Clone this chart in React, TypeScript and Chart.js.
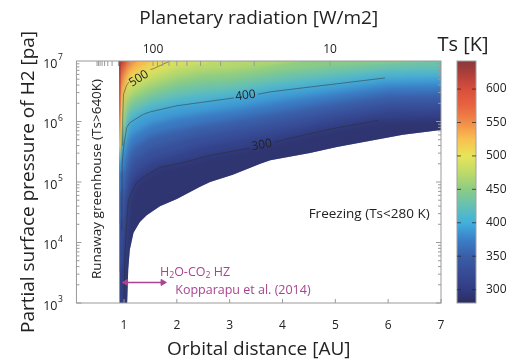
import React, { useEffect, useRef } from 'react';
import { Chart, registerables } from 'chart.js';

Chart.register(...registerables);

const FONT = "'Open Sans', 'DejaVu Sans', sans-serif";
const MAGENTA = '#a8448f';
const INK = '#222222';

// ---- axes ----
const DIST_TICKS = [1, 2, 3, 4, 5, 6, 7];
const FLUX_TICKS = [1000, 900, 800, 700, 600, 500, 400, 300, 200, 100, 90, 80, 70, 60, 50, 40, 30, 20, 10];
const FLUX_LABELS = [100, 10];
const FLUX_1AU = 240; // W/m2 at 1 AU (top axis conversion)
const P_DECADES = [3, 4, 5, 6, 7];
const TS_TICKS = [300, 350, 400, 450, 500, 550, 600];
const TS_MIN = 280;
const TS_MAX = 642;

// ---- colour map (Ts -> rgb) ----
const CMAP_T = [280, 300, 325, 350, 375, 400, 425, 450, 475, 500, 525, 550, 575, 600, 625, 642];
const CMAP_RGB = [
  [44, 45, 96], [49, 60, 130], [55, 75, 150], [58, 94, 168], [58, 128, 200], [66, 176, 222],
  [100, 192, 180], [140, 204, 132], [190, 218, 105], [232, 228, 90], [248, 192, 80],
  [242, 140, 72], [232, 100, 64], [216, 78, 60], [170, 62, 58], [135, 58, 58],
];

// ---- isotherms: [orbital distance AU, log10 pressure Pa] ----
const ISO_280 = [[0.915, 1.0], [1.05, 2.0], [1.06, 3.0], [1.08, 3.55], [1.11, 3.88], [1.18, 4.16], [1.3, 4.34], [1.43, 4.45], [1.68, 4.6], [2.0, 4.72], [2.44, 4.92], [2.63, 5.0], [3.06, 5.12], [3.58, 5.3], [3.77, 5.36], [4.52, 5.48], [5.03, 5.58], [6.28, 5.78], [7.0, 5.86]];
const ISO_300 = [[0.915, 1.0], [0.99, 2.5], [1.0, 3.0], [1.02, 3.88], [1.06, 4.45], [1.08, 4.68], [1.15, 4.85], [1.24, 4.99], [1.36, 5.08], [1.68, 5.24], [2.12, 5.32], [2.63, 5.44], [3.2, 5.53], [3.77, 5.65], [4.52, 5.8], [5.0, 5.89], [5.82, 6.02], [7.0, 6.05]];
const ISO_320 = [[0.915, 3.5], [0.98, 3.7], [1.0, 4.0], [1.05, 4.7], [1.1, 5.0], [1.2, 5.15], [1.5, 5.35], [2.0, 5.48], [2.5, 5.61], [3.0, 5.69], [4.0, 5.86], [5.0, 6.04], [6.0, 6.18], [7.0, 6.19]];
const ISO_340 = [[0.915, 4.3], [0.98, 4.4], [1.0, 4.6], [1.05, 5.05], [1.1, 5.24], [1.2, 5.37], [1.5, 5.55], [2.0, 5.68], [2.5, 5.79], [3.0, 5.86], [4.0, 6.02], [5.0, 6.18], [6.0, 6.32], [7.0, 6.33]];
const ISO_360 = [[0.915, 4.8], [0.98, 4.9], [1.0, 5.15], [1.05, 5.35], [1.1, 5.48], [1.2, 5.59], [1.5, 5.76], [2.0, 5.87], [2.5, 5.96], [3.0, 6.03], [4.0, 6.18], [5.0, 6.33], [6.0, 6.46], [7.0, 6.47]];
const ISO_380 = [[0.915, 5.15], [0.98, 5.2], [1.0, 5.4], [1.05, 5.65], [1.1, 5.72], [1.2, 5.81], [1.5, 5.96], [2.0, 6.07], [2.5, 6.14], [3.0, 6.2], [4.0, 6.35], [5.0, 6.48], [6.0, 6.6], [7.0, 6.61]];
const ISO_400 = [[0.915, 5.35], [0.96, 5.4], [0.99, 5.55], [1.0, 5.62], [1.05, 5.9], [1.11, 5.98], [1.2, 6.03], [1.37, 6.12], [1.5, 6.16], [2.0, 6.26], [2.5, 6.32], [3.0, 6.38], [3.77, 6.49], [4.52, 6.57], [5.0, 6.62], [5.94, 6.72], [7.0, 6.74]];
const ISO_420 = [[0.915, 5.5], [0.99, 5.62], [1.0, 5.8], [1.05, 6.06], [1.1, 6.11], [1.2, 6.17], [1.5, 6.3], [2.0, 6.41], [2.5, 6.48], [3.0, 6.52], [4.0, 6.66], [5.0, 6.76], [6.0, 6.85], [7.0, 6.87]];
const ISO_440 = [[0.915, 5.6], [0.99, 5.75], [1.0, 5.97], [1.05, 6.2], [1.1, 6.25], [1.2, 6.31], [1.5, 6.44], [2.0, 6.57], [2.5, 6.64], [3.0, 6.67], [4.0, 6.81], [5.0, 6.9], [6.0, 6.96], [7.0, 7.0]];
const ISO_460 = [[0.915, 5.7], [0.985, 5.85], [1.0, 6.13], [1.05, 6.33], [1.1, 6.39], [1.2, 6.45], [1.5, 6.58], [2.0, 6.72], [2.5, 6.8], [3.0, 6.83], [4.0, 6.96], [5.0, 7.04], [6.0, 7.08], [7.0, 7.12]];
const ISO_480 = [[0.915, 5.8], [0.98, 5.95], [1.0, 6.3], [1.05, 6.47], [1.1, 6.52], [1.2, 6.59], [1.5, 6.72], [2.0, 6.88], [2.5, 6.96], [3.0, 6.99], [3.5, 7.05], [4.0, 7.11]];
const ISO_500 = [[0.915, 5.9], [0.975, 6.05], [0.99, 6.45], [1.05, 6.6], [1.11, 6.67], [1.2, 6.73], [1.43, 6.84], [1.55, 6.87], [1.87, 7.0], [2.2, 7.06]];
const ISO_520 = [[0.915, 6.02], [0.97, 6.28], [1.0, 6.6], [1.05, 6.72], [1.1, 6.78], [1.2, 6.84], [1.5, 6.98], [1.6, 7.02]];
const ISO_540 = [[0.915, 6.15], [0.96, 6.48], [1.0, 6.73], [1.05, 6.83], [1.1, 6.89], [1.2, 6.96], [1.3, 7.02]];
const ISO_560 = [[0.915, 6.28], [0.96, 6.58], [1.0, 6.84], [1.05, 6.93], [1.1, 7.0], [1.15, 7.04]];
const ISO_580 = [[0.915, 6.42], [0.96, 6.7], [1.0, 6.9], [1.05, 6.98], [1.1, 7.03]];
const ISO_600 = [[0.915, 6.6], [0.95, 6.8], [1.0, 6.95], [1.05, 7.02]];
const ISO_620 = [[0.915, 6.85], [0.95, 6.93], [0.99, 7.02]];
const ISO_640 = [[0.915, 6.97], [0.93, 7.03]];

const LEVELS = [280, 300, 320, 340, 360, 380, 400, 420, 440, 460, 480, 500, 520, 540, 560, 580, 600, 620, 640];
const ISOTHERMS = [ISO_280, ISO_300, ISO_320, ISO_340, ISO_360, ISO_380, ISO_400, ISO_420, ISO_440, ISO_460, ISO_480, ISO_500, ISO_520, ISO_540, ISO_560, ISO_580, ISO_600, ISO_620, ISO_640];

// hot edge of the runaway limit: [distance, log10 p] ends, with Ts along it
const RUNAWAY_EDGE = [[0.922, 5.2], [0.922, 7.0]];
const RUNAWAY_EDGE_T = [[5.2, 400], [5.6, 520], [6.2, 575], [6.7, 610], [7.0, 635]];

// ---- labelled contour lines (null = gap for the inline label) ----
const LINE_300 = [[0.995, 2.9], [1.0, 3.1], [1.02, 3.88], [1.06, 4.45], [1.08, 4.68], [1.15, 4.85], [1.24, 4.99], [1.36, 5.08], [1.68, 5.24], [2.12, 5.32], [2.63, 5.44], [3.2, 5.53], [3.38, 5.56], [3.6, null], [3.84, 5.66], [4.52, 5.8], [5.0, 5.89], [5.82, 6.02]];
const LINE_400 = [[0.958, 4.2], [0.965, 5.3], [0.99, 5.55], [1.0, 5.62], [1.05, 5.9], [1.11, 5.98], [1.2, 6.03], [1.37, 6.12], [1.5, 6.16], [2.0, 6.26], [2.5, 6.32], [3.0, 6.38], [3.08, 6.39], [3.3, null], [3.53, 6.45], [3.77, 6.49], [4.52, 6.57], [5.0, 6.62], [5.94, 6.72]];
const LINE_500 = [[0.972, 5.6], [0.976, 6.05], [0.99, 6.45], [1.05, 6.6], [1.09, 6.65], [1.3, null], [1.5, 6.86], [1.55, 6.87], [1.87, 7.0]];
const CONTOUR_LABELS = ['300', '400', '500'];
const CONTOUR_LABEL_AT = [[3.61, 5.61, -10], [3.3, 6.43, -7], [1.28, 6.71, -32]];

// ---- annotation: H2O-CO2 habitable zone (Kopparapu et al. 2014) ----
const HZ_ARROW = [[1.035, 3.34], [1.735, 3.34]];

function cmapRGB(t: number): number[] {
  const v = Math.max(CMAP_T[0], Math.min(CMAP_T[CMAP_T.length - 1], t));
  let i = 0;
  while (i < CMAP_T.length - 2 && v > CMAP_T[i + 1]) i++;
  const f = (v - CMAP_T[i]) / (CMAP_T[i + 1] - CMAP_T[i]);
  const a = CMAP_RGB[i], b = CMAP_RGB[i + 1];
  return a.map((av, k) => Math.round(av + (b[k] - av) * f));
}
function cmap(t: number, alpha = 1): string {
  const c = cmapRGB(t);
  return `rgba(${c[0]},${c[1]},${c[2]},${alpha})`;
}

const toXY = (pts: any[]) => pts.map(([d, lp]) => ({ x: d, y: lp === null ? null : Math.pow(10, lp) }));

function drawSubText(ctx: CanvasRenderingContext2D, parts: [string, boolean][], x: number, y: number, size: number) {
  let cx = x;
  for (const [s, sub] of parts) {
    ctx.font = `${sub ? size * 0.7 : size}px ${FONT}`;
    ctx.fillText(s, cx, sub ? y + size * 0.25 : y);
    cx += ctx.measureText(s).width;
  }
}

// softens the filled-contour steps inside the coloured region (the reference is nearly continuous)
const smoothPlugin = {
  id: 'smoothField',
  afterDatasetDraw(chart: any, args: any) {
    if (args.index !== LEVELS.length - 1) return;
    const ctx: CanvasRenderingContext2D = chart.ctx;
    const sx = chart.scales.x;
    const sy = chart.scales.y;
    const { left, right, top, bottom } = chart.chartArea;
    const src = chart.canvas as HTMLCanvasElement;
    const off = document.createElement('canvas');
    off.width = src.width;
    off.height = src.height;
    const octx = off.getContext('2d');
    if (!octx) return;
    octx.drawImage(src, 0, 0);
    ctx.save();
    ctx.beginPath();
    ctx.rect(left, top, right - left, bottom - top);
    ctx.clip();
    ctx.beginPath();
    const pts = ISO_280.map(([d, lp]) => [sx.getPixelForValue(d), sy.getPixelForValue(Math.pow(10, lp))]);
    ctx.moveTo(pts[0][0], top);
    pts.forEach(([px, py]) => ctx.lineTo(px, py));
    ctx.lineTo(pts[pts.length - 1][0], top);
    ctx.closePath();
    ctx.clip();
    ctx.filter = 'blur(3px)';
    ctx.setTransform(1, 0, 0, 1, 0, 0);
    ctx.drawImage(off, 0, 0);
    ctx.restore();
  },
};

const overlayPlugin = {
  id: 'overlay',
  afterDatasetsDraw(chart: any) {
    const ctx: CanvasRenderingContext2D = chart.ctx;
    const { left, right, top, bottom } = chart.chartArea;
    const sx = chart.scales.x;
    const sy = chart.scales.y;
    const sc = chart.scales.yc;
    ctx.save();

    // contour labels
    ctx.fillStyle = INK;
    ctx.font = `12px ${FONT}`;
    ctx.textAlign = 'center';
    ctx.textBaseline = 'middle';
    CONTOUR_LABELS.forEach((txt, i) => {
      const [d, lp, rot] = CONTOUR_LABEL_AT[i];
      ctx.save();
      ctx.translate(sx.getPixelForValue(d), sy.getPixelForValue(Math.pow(10, lp)));
      ctx.rotate((rot * Math.PI) / 180);
      ctx.fillText(txt, 0, 0);
      ctx.restore();
    });

    // region annotations
    ctx.save();
    ctx.translate(sx.getPixelForValue(0.5), sy.getPixelForValue(Math.pow(10, 5.05)));
    ctx.rotate(-Math.PI / 2);
    ctx.font = `13.5px ${FONT}`;
    ctx.fillText('Runaway greenhouse (Ts>640K)', 0, 0);
    ctx.restore();

    ctx.font = `13.5px ${FONT}`;
    ctx.fillText('Freezing (Ts<280 K)', sx.getPixelForValue(5.64), sy.getPixelForValue(Math.pow(10, 4.47)));

    ctx.fillStyle = MAGENTA;
    ctx.textAlign = 'left';
    drawSubText(ctx, [['H', false], ['2', true], ['O-CO', false], ['2', true], [' HZ', false]],
      sx.getPixelForValue(1.68), sy.getPixelForValue(Math.pow(10, 3.5)), 12.5);
    ctx.font = `12.5px ${FONT}`;
    ctx.fillText('Kopparapu et al. (2014)', sx.getPixelForValue(1.97), sy.getPixelForValue(Math.pow(10, 3.21)));

    // frame
    ctx.strokeStyle = '#9a9a9a';
    ctx.lineWidth = 1;
    ctx.strokeRect(left, top, right - left, bottom - top);

    // ticks (inward)
    ctx.beginPath();
    DIST_TICKS.forEach((v) => {
      const px = sx.getPixelForValue(v);
      ctx.moveTo(px, bottom);
      ctx.lineTo(px, bottom - 4);
    });
    FLUX_TICKS.forEach((f) => {
      const d = Math.sqrt(FLUX_1AU / f);
      const px = sx.getPixelForValue(d);
      if (px < left || px > right) return;
      ctx.moveTo(px, top);
      ctx.lineTo(px, top + 5);
    });
    for (let e = P_DECADES[0]; e < P_DECADES[P_DECADES.length - 1]; e++) {
      for (let m = 1; m <= 9; m++) {
        const py = sy.getPixelForValue(m * Math.pow(10, e));
        const len = m === 1 ? 5 : 3;
        ctx.moveTo(left, py);
        ctx.lineTo(left + len, py);
        ctx.moveTo(right, py);
        ctx.lineTo(right - len, py);
      }
    }
    ctx.stroke();

    // y tick labels 10^n
    ctx.fillStyle = INK;
    P_DECADES.forEach((e) => {
      const py = sy.getPixelForValue(Math.pow(10, e));
      ctx.font = `12.5px ${FONT}`;
      ctx.textAlign = 'right';
      ctx.textBaseline = 'middle';
      ctx.fillText('10', left - 19, py + 3);
      ctx.font = `8.5px ${FONT}`;
      ctx.textAlign = 'left';
      ctx.fillText(String(e), left - 18.5, py - 3);
    });

    // colour bar
    const bx = sc.left + 16;
    const bw = 19;
    const y0 = sc.getPixelForValue(TS_MIN);
    const y1 = sc.getPixelForValue(TS_MAX);
    const grad = ctx.createLinearGradient(0, y0, 0, y1);
    CMAP_T.forEach((t) => grad.addColorStop((t - TS_MIN) / (TS_MAX - TS_MIN), cmap(t)));
    ctx.fillStyle = grad;
    ctx.fillRect(bx, y1, bw, y0 - y1);
    ctx.strokeStyle = '#a0a0a0';
    ctx.strokeRect(bx, y1, bw, y0 - y1);
    ctx.strokeStyle = 'rgba(40,40,40,0.75)';
    ctx.beginPath();
    TS_TICKS.forEach((t) => {
      const py = sc.getPixelForValue(t);
      ctx.moveTo(bx, py);
      ctx.lineTo(bx + 4, py);
      ctx.moveTo(bx + bw, py);
      ctx.lineTo(bx + bw - 4, py);
    });
    ctx.stroke();
    ctx.fillStyle = INK;
    ctx.font = `20px ${FONT}`;
    ctx.textAlign = 'center';
    ctx.textBaseline = 'middle';
    ctx.fillText('Ts [K]', bx + 6, 45);

    ctx.restore();
  },
};

export default function App() {
  const ref = useRef<HTMLCanvasElement | null>(null);

  useEffect(() => {
    if (!ref.current) return;
    const fills = ISOTHERMS.map((iso, k) => {
      const t0 = LEVELS[k];
      const t1 = k + 1 < LEVELS.length ? LEVELS[k + 1] : TS_MAX;
      return {
        label: `Ts ${t0} K`,
        data: toXY(iso),
        xAxisID: 'x',
        yAxisID: 'y',
        fill: 'end',
        backgroundColor: cmap((t0 + t1) / 2),
        borderColor: 'rgba(0,0,0,0)',
        borderWidth: 0,
        pointRadius: 0,
        order: 100 - k,
      };
    });
    const edge = {
      label: 'runaway edge',
      data: toXY(RUNAWAY_EDGE),
      xAxisID: 'x',
      yAxisID: 'y',
      fill: false,
      borderWidth: 1.6,
      pointRadius: 0,
      order: 2,
      borderColor: (c: any) => {
        const ch = c.chart;
        const sy = ch.scales.y;
        if (!ch.chartArea || !sy) return cmap(600);
        const yb = sy.getPixelForValue(Math.pow(10, RUNAWAY_EDGE_T[0][0]));
        const yt = sy.getPixelForValue(Math.pow(10, RUNAWAY_EDGE_T[RUNAWAY_EDGE_T.length - 1][0]));
        const g = ch.ctx.createLinearGradient(0, yb, 0, yt);
        RUNAWAY_EDGE_T.forEach(([lp, t], i) => {
          const pos = (sy.getPixelForValue(Math.pow(10, lp)) - yb) / (yt - yb);
          g.addColorStop(Math.max(0, Math.min(1, pos)), cmap(t, i === 0 ? 0 : 1));
        });
        return g;
      },
    };
    const lines = [LINE_300, LINE_400, LINE_500].map((ln, k) => ({
      label: `contour ${CONTOUR_LABELS[k]}`,
      data: toXY(ln),
      xAxisID: 'x',
      yAxisID: 'y',
      fill: false,
      borderColor: 'rgba(45,45,45,0.6)',
      borderWidth: 0.8,
      pointRadius: 0,
      spanGaps: false,
      order: 1,
    }));
    const arrow = {
      label: 'HZ',
      data: toXY(HZ_ARROW),
      xAxisID: 'x',
      yAxisID: 'y',
      fill: false,
      borderColor: MAGENTA,
      borderWidth: 1.5,
      pointRadius: 3.5,
      pointStyle: 'triangle',
      pointRotation: (c: any) => (c.dataIndex === 0 ? -90 : 90),
      pointBackgroundColor: MAGENTA,
      pointBorderColor: MAGENTA,
      pointBorderWidth: 1,
      order: 0,
    };

    const chart = new Chart(ref.current, {
      type: 'line',
      data: { datasets: [...fills, edge, ...lines, arrow] as any },
      options: {
        responsive: false,
        animation: false,
        events: [],
        layout: { padding: 0 },
        plugins: { legend: { display: false }, tooltip: { enabled: false } },
        scales: {
          x: {
            type: 'linear',
            position: 'bottom',
            min: 0.1,
            max: 7,
            afterBuildTicks: (s: any) => { s.ticks = DIST_TICKS.map((v) => ({ value: v })); },
            afterFit: (s: any) => { s.height = 61; },
            grid: { display: false, drawTicks: false },
            border: { display: false },
            ticks: { color: INK, font: { family: FONT, size: 12 }, padding: 15, maxRotation: 0 },
            title: { display: true, text: 'Orbital distance [AU]', color: INK, font: { family: FONT, size: 19 }, padding: { top: 0, bottom: 3 } },
          },
          x2: {
            type: 'linear',
            position: 'top',
            min: 0.1,
            max: 7,
            afterBuildTicks: (s: any) => { s.ticks = FLUX_LABELS.map((f) => ({ value: Math.sqrt(FLUX_1AU / f) })); },
            afterFit: (s: any) => { s.height = 61; },
            grid: { display: false, drawTicks: false },
            border: { display: false },
            ticks: { color: INK, font: { family: FONT, size: 12 }, padding: 4, maxRotation: 0, callback: (_v: any, i: number) => String(FLUX_LABELS[i]) },
            title: { display: true, text: 'Planetary radiation [W/m2]', color: INK, font: { family: FONT, size: 19 }, padding: { top: 7, bottom: 0 } },
          },
          y: {
            type: 'logarithmic',
            position: 'left',
            min: 1e3,
            max: 1e7,
            afterFit: (s: any) => { s.width = 76.45; },
            grid: { display: false, drawTicks: false },
            border: { display: false },
            ticks: { display: false },
            title: { display: true, text: 'Partial surface pressure of H2 [pa]', color: INK, font: { family: FONT, size: 19 }, padding: { top: 17, bottom: 0 } },
          },
          yc: {
            type: 'linear',
            position: 'right',
            min: TS_MIN,
            max: TS_MAX,
            afterBuildTicks: (s: any) => { s.ticks = TS_TICKS.map((v) => ({ value: v })); },
            afterFit: (s: any) => { s.width = 71; },
            grid: { display: false, drawTicks: false },
            border: { display: false },
            ticks: { color: INK, font: { family: FONT, size: 12 }, padding: 45 },
          },
        },
      },
      plugins: [smoothPlugin, overlayPlugin],
    });
    return () => chart.destroy();
  }, []);

  return (
    <canvas
      ref={ref}
      width={512}
      height={364}
      style={{ position: 'absolute', left: 0, top: 0, width: 512, height: 364, background: '#ffffff' }}
    />
  );
}
